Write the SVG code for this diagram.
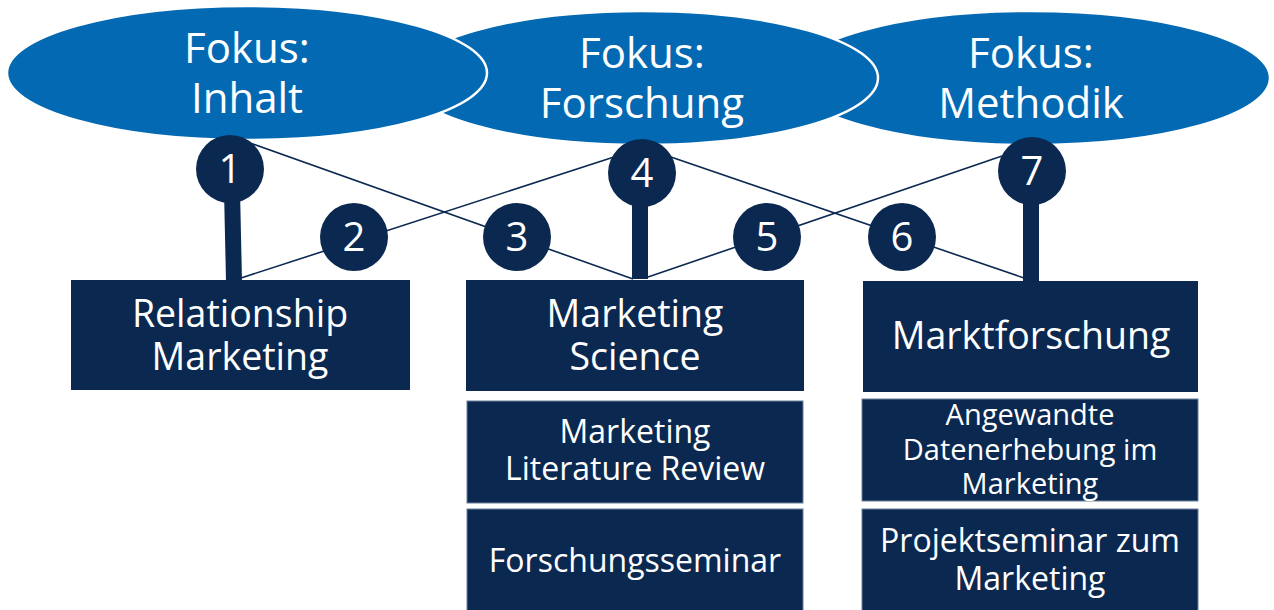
<svg xmlns="http://www.w3.org/2000/svg" width="1274" height="610" viewBox="0 0 1274 610">
  <style>
    .focus { fill: #0369b3; stroke: #ffffff; stroke-width: 2.5; }
    .focus-text { font-family: "Open Sans", "Liberation Sans", sans-serif; font-size: 42px; fill: #ffffff; text-anchor: middle; }
    .box { fill: #0b2950; }
    .sub { fill: #0b2950; stroke: #6c7f9c; stroke-width: 1; }
    .box-text { font-family: "Open Sans", "Liberation Sans", sans-serif; font-size: 37.5px; fill: #ffffff; text-anchor: middle; }
    .sub-text { font-family: "Open Sans", "Liberation Sans", sans-serif; font-size: 32px; fill: #ffffff; text-anchor: middle; }
    .sub-small { font-family: "Open Sans", "Liberation Sans", sans-serif; font-size: 29px; fill: #ffffff; text-anchor: middle; }
    .num { fill: #0b2950; }
    .num-text { font-family: "Open Sans", "Liberation Sans", sans-serif; font-size: 40px; fill: #ffffff; text-anchor: middle; }
    .thin { stroke: #0b2950; stroke-width: 1.6; fill: none; }
    .stem { stroke: #0b2950; stroke-width: 16; fill: none; }
  </style>

  <!-- focus ellipses, back to front -->
  <g id="focus-methodik">
    <ellipse class="focus" cx="1031" cy="78" rx="239" ry="67"/>
    <text class="focus-text" x="1031" y="68">Fokus:</text>
    <text class="focus-text" x="1031" y="118">Methodik</text>
  </g>
  <g id="focus-forschung">
    <ellipse class="focus" cx="642" cy="78" rx="236" ry="67"/>
    <text class="focus-text" x="642" y="68">Fokus:</text>
    <text class="focus-text" x="642" y="118">Forschung</text>
  </g>
  <g id="focus-inhalt">
    <ellipse class="focus" cx="247" cy="73" rx="240" ry="67"/>
    <text class="focus-text" x="247" y="63">Fokus:</text>
    <text class="focus-text" x="247" y="113">Inhalt</text>
  </g>

  <!-- connectors -->
  <g id="connectors">
    <line class="thin" x1="250" y1="143" x2="633" y2="279"/>
    <line class="thin" x1="241" y1="278" x2="614" y2="157"/>
    <line class="thin" x1="668" y1="156" x2="1024" y2="278"/>
    <line class="thin" x1="648" y1="277" x2="1002" y2="156"/>
    <line class="stem" x1="232" y1="190" x2="234" y2="281"/>
    <line class="stem" x1="640" y1="195" x2="640" y2="279"/>
    <line class="stem" x1="1031" y1="195" x2="1031" y2="282"/>
  </g>

  <!-- numbered markers -->
  <g id="n1"><circle class="num" cx="230" cy="169" r="34"/><text class="num-text" x="230" y="183">1</text></g>
  <g id="n2"><circle class="num" cx="354" cy="237" r="34"/><text class="num-text" x="354" y="251">2</text></g>
  <g id="n3"><circle class="num" cx="517" cy="237" r="34"/><text class="num-text" x="517" y="251">3</text></g>
  <g id="n4"><circle class="num" cx="642" cy="173" r="34"/><text class="num-text" x="642" y="187">4</text></g>
  <g id="n5"><circle class="num" cx="767" cy="237" r="34"/><text class="num-text" x="767" y="251">5</text></g>
  <g id="n6"><circle class="num" cx="902" cy="237" r="34"/><text class="num-text" x="902" y="251">6</text></g>
  <g id="n7"><circle class="num" cx="1032" cy="171" r="34"/><text class="num-text" x="1032" y="185">7</text></g>

  <!-- main areas -->
  <g id="relationship-marketing">
    <rect class="box" x="71" y="280" width="339" height="110"/>
    <text class="box-text" x="240" y="327">Relationship</text>
    <text class="box-text" x="240" y="370">Marketing</text>
  </g>
  <g id="marketing-science">
    <rect class="box" x="466" y="280" width="338" height="111"/>
    <text class="box-text" x="635" y="327">Marketing</text>
    <text class="box-text" x="635" y="370">Science</text>
  </g>
  <g id="marktforschung">
    <rect class="box" x="863" y="281" width="335" height="111"/>
    <text class="box-text" x="1031" y="349">Marktforschung</text>
  </g>

  <!-- courses -->
  <g id="literature-review">
    <rect class="sub" x="467" y="401" width="336" height="102"/>
    <text class="sub-text" x="635" y="443">Marketing</text>
    <text class="sub-text" x="635" y="480">Literature Review</text>
  </g>
  <g id="forschungsseminar">
    <rect class="sub" x="467" y="509" width="336" height="110"/>
    <text class="sub-text" x="635" y="572">Forschungsseminar</text>
  </g>
  <g id="datenerhebung">
    <rect class="sub" x="862" y="399" width="336" height="102"/>
    <text class="sub-small" x="1030" y="425">Angewandte</text>
    <text class="sub-small" x="1030" y="460">Datenerhebung im</text>
    <text class="sub-small" x="1030" y="494">Marketing</text>
  </g>
  <g id="projektseminar">
    <rect class="sub" x="862" y="509" width="336" height="110"/>
    <text class="sub-text" x="1030" y="552">Projektseminar zum</text>
    <text class="sub-text" x="1030" y="590">Marketing</text>
  </g>
</svg>
